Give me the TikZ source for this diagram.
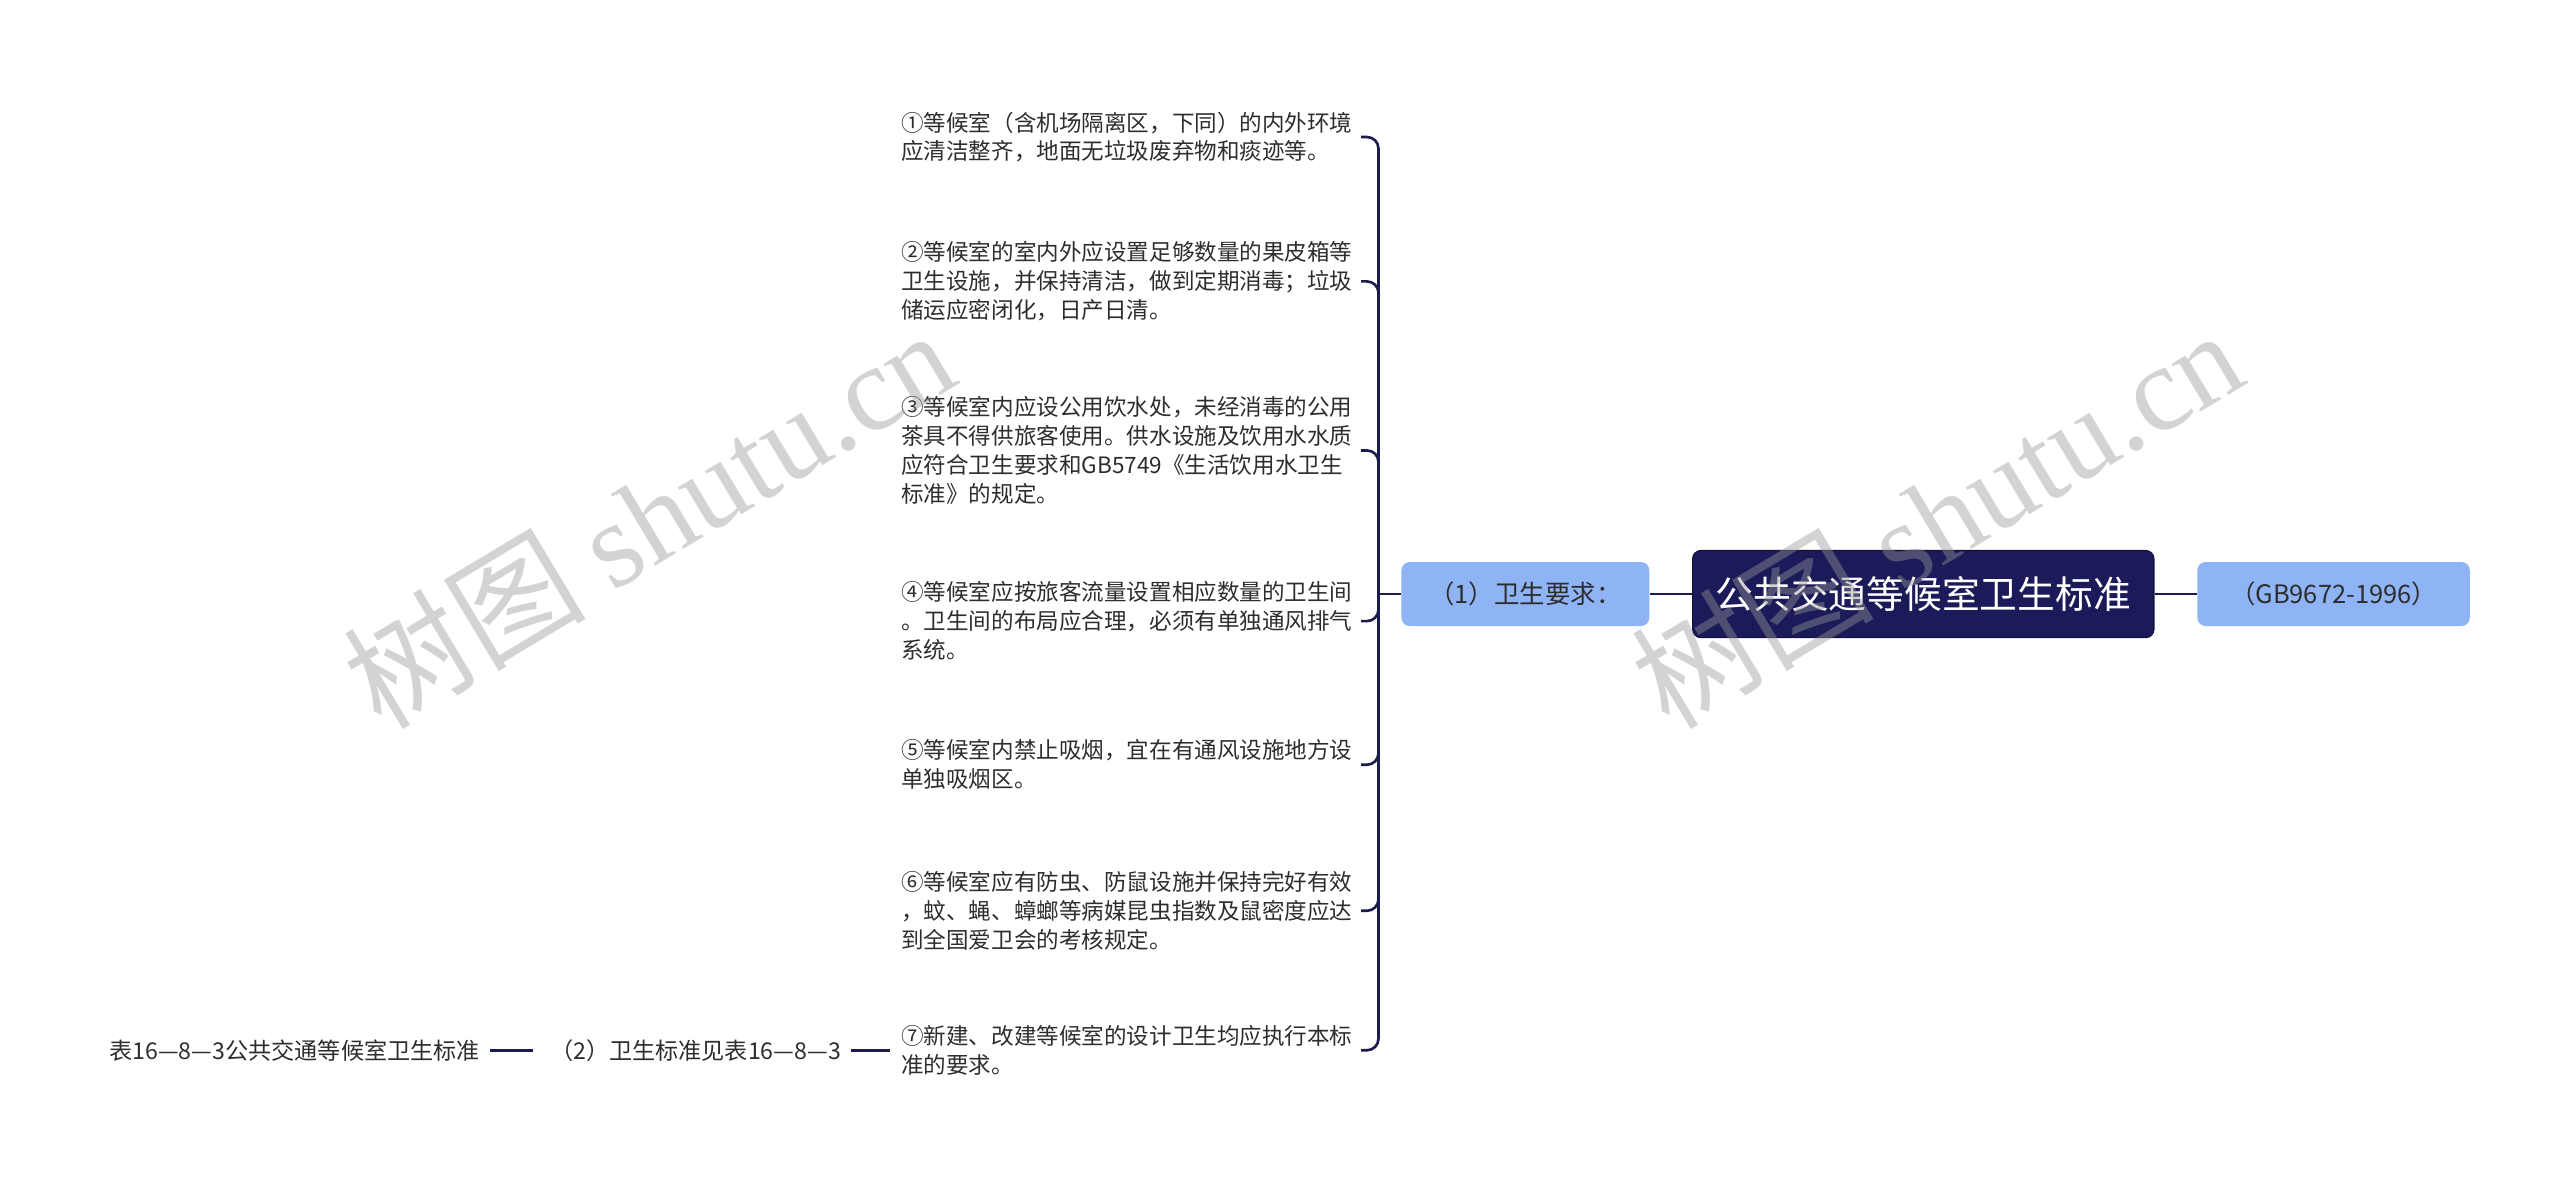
\documentclass[tikz,border=0pt]{standalone}
\usepackage{fontspec}
\setmainfont{Noto Sans CJK SC}
\newfontfamily\wmlatin{Liberation Serif}
\newfontfamily\wmcjk{Noto Sans CJK SC}
\definecolor{lineclr}{RGB}{28,27,78}
\definecolor{navy}{RGB}{28,27,90}
\definecolor{navydark}{RGB}{18,18,60}
\definecolor{lblue}{RGB}{143,180,246}
\definecolor{txt}{RGB}{45,45,45}
\definecolor{wmgray}{RGB}{150,150,150}
\begin{document}
\begin{tikzpicture}[x=1pt,y=-1pt,
  conn/.style={draw=lineclr, line width=1.6pt},
  item/.style={font=\fontsize{13.75}{17.6}\selectfont, text=txt, align=left,
    text width=277pt, inner xsep=3pt, inner ysep=2pt, anchor=west},
  lnode/.style={fill=lblue, rounded corners=5pt, text=txt,
    font=\fontsize{15.5}{18}\selectfont, minimum height=39pt, inner sep=0pt},
  rootnode/.style={fill=navy, draw=navydark, line width=0.8pt, rounded corners=5pt,
    text=white, font=\fontsize{23}{26}\selectfont, minimum width=281pt,
    minimum height=53pt, inner sep=0pt},
  plain/.style={font=\fontsize{14.1}{16}\selectfont, text=txt, inner xsep=6pt, inner ysep=2pt},
  wm/.style={text=wmgray, opacity=0.42, rotate=31, inner sep=0pt}
]
\useasboundingbox (0,0) rectangle (1560,721.5);

% main nodes
\node[rootnode] (root) at (1172,362) {公共交通等候室卫生标准};
\node[lnode, minimum width=151pt] (p1) at (929.5,362) {（1）卫生要求：};
\node[lnode, minimum width=166pt] (gb) at (1422,362) {（GB9672-1996）};

% items
\node[item] (i1) at (546,83.5) {①等候室（含机场隔离区，下同）的内外环境\\应清洁整齐，地面无垃圾废弃物和痰迹等。};
\node[item] (i2) at (546,171.5) {②等候室的室内外应设置足够数量的果皮箱等\\卫生设施，并保持清洁，做到定期消毒；垃圾\\储运应密闭化，日产日清。};
\node[item] (i3) at (546,274.5) {③等候室内应设公用饮水处，未经消毒的公用\\茶具不得供旅客使用。供水设施及饮用水水质\\应符合卫生要求和GB5749《生活饮用水卫生\\标准》的规定。};
\node[item] (i4) at (546,378.5) {④等候室应按旅客流量设置相应数量的卫生间\\。卫生间的布局应合理，必须有单独通风排气\\系统。};
\node[item] (i5) at (546,466) {⑤等候室内禁止吸烟，宜在有通风设施地方设\\单独吸烟区。};
\node[item] (i6) at (546,555) {⑥等候室应有防虫、防鼠设施并保持完好有效\\，蚊、蝇、蟑螂等病媒昆虫指数及鼠密度应达\\到全国爱卫会的考核规定。};
\node[item] (i7) at (546,640) {⑦新建、改建等候室的设计卫生均应执行本标\\准的要求。};

% bottom-left chain
\node[plain, anchor=east] (p2) at (518.6,640) {（2）卫生标准见表16—8—3};
\node[plain, anchor=east] (tbl) at (298.6,640) {表16—8—3公共交通等候室卫生标准};

% connectors
\coordinate (jn) at (840,362);
\draw[conn] (root.east) -- (gb.west);
\draw[conn] (p1.east) -- (root.west);
\draw[conn] (p1.west) -- (jn);
\foreach \n in {i1,i2,i3,i4,i5,i6,i7}{
  \draw[conn, rounded corners=7pt] (jn) |- (\n.east);
}
\draw[conn, shorten >=3.5pt] (p2.east) -- (i7.west);
\draw[conn] (tbl.east) -- ([xshift=-4pt]p2.west);

% watermarks
\node[wm] (wm1) at (395,315) {\fontsize{74}{74}\selectfont\wmcjk 树图\ \wmlatin shutu.cn};
\node[wm] (wm2) at (1180,315) {\fontsize{74}{74}\selectfont\wmcjk 树图\ \wmlatin shutu.cn};
\end{tikzpicture}
\end{document}
